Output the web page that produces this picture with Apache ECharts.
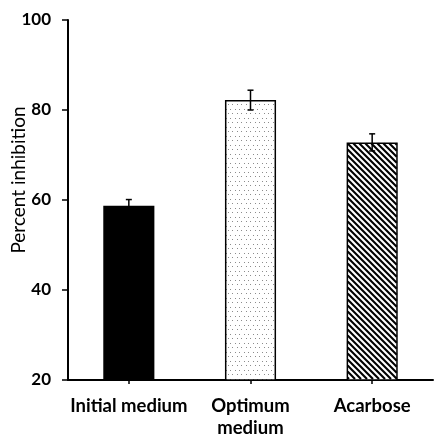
<!DOCTYPE html>
<html>
<head>
<meta charset="utf-8">
<script src="https://cdn.jsdelivr.net/npm/echarts@6/dist/echarts.min.js"></script>
<style>
html,body{margin:0;padding:0;background:#fff;}
#chart{width:435px;height:435px;}
</style>
</head>
<body>
<div id="chart"></div>
<script>
const categories = ['Initial medium', 'Optimum\nmedium', 'Acarbose'];
const values = [58.7, 82.2, 72.8];
const errors = [1.4, 2.2, 1.9];
const yTicks = [20, 40, 60, 80, 100];

const BAR_FRAC = 0.42;

function dotPattern() {
  const c = document.createElement('canvas');
  c.width = 9; c.height = 9;
  const g = c.getContext('2d');
  g.fillStyle = '#fff'; g.fillRect(0, 0, 9, 9);
  g.fillStyle = '#8c8c8c';
  g.fillRect(1, 1, 1, 1);
  g.fillRect(5, 1, 1, 1);
  g.fillRect(3, 5, 1, 1);
  g.fillRect(7, 5, 1, 1);
  return c;
}

const fills = [
  '#000',
  { image: dotPattern(), repeat: 'repeat' },
  '#fff'
];

const chart = echarts.init(document.getElementById('chart'), null, { renderer: 'canvas' });
const font = 'Lato, "Open Sans", sans-serif';
chart.setOption({
  animation: false,
  backgroundColor: '#fff',
  grid: { left: 68, right: 2, top: 20, bottom: 55, containLabel: false, outerBoundsMode: 'none' },
  graphic: [{
    type: 'text', x: 19, y: 180, rotation: Math.PI / 2,
    style: { text: 'Percent inhibition', font: '19px ' + font, fill: '#000', textAlign: 'center', textVerticalAlign: 'middle' }
  }],
  xAxis: {
    type: 'category', data: categories,
    axisLine: { lineStyle: { color: '#000', width: 2 } },
    axisTick: { show: true, alignWithLabel: true, length: 4, lineStyle: { color: '#000', width: 1.5 } },
    axisLabel: { color: '#000', fontFamily: font, fontWeight: 'bold', fontSize: 18.5, lineHeight: 22, margin: 15, interval: 0 }
  },
  yAxis: {
    type: 'value', min: yTicks[0], max: yTicks[yTicks.length - 1], interval: 20,
    splitLine: { show: false },
    axisLine: { show: true, lineStyle: { color: '#000', width: 2 } },
    axisTick: { show: true, length: 6, lineStyle: { color: '#000', width: 1.5 } },
    axisLabel: { color: '#000', fontFamily: font, fontWeight: 'bold', fontSize: 17, margin: 17 }
  },
  series: [
    {
      type: 'bar', barWidth: (BAR_FRAC * 100) + '%', z: 2,
      data: values.map((v, i) => ({ value: v, itemStyle: { color: fills[i], borderColor: '#000', borderWidth: 1.5 } }))
    },
    {
      // diagonal hatch inside the Acarbose bar
      type: 'custom', z: 3,
      data: [[2, values[2]]],
      renderItem: function (params, api) {
        const i = api.value(0), v = api.value(1);
        const top = api.coord([i, v]);
        const base = api.coord([i, yTicks[0]]);
        const w = api.size([1, 0])[0] * BAR_FRAC;
        const inset = 1;
        const x0 = top[0] - w / 2 + inset, x1 = top[0] + w / 2 - inset;
        const y0 = top[1] + inset, y1 = base[1] - inset;
        const step = 6;
        const children = [];
        const cStart = Math.floor((x0 - y1) / step) * step - step;
        for (let c = cStart; c <= x1 - y0 + step; c += step) {
          // line: x - y = c  ->  y = x - c
          const sx = Math.max(x0, y0 + c), ex = Math.min(x1, y1 + c);
          if (ex > sx) {
            children.push({ type: 'line', shape: { x1: sx, y1: sx - c, x2: ex, y2: ex - c },
              style: { stroke: '#000', lineWidth: 2.1 } });
          }
        }
        return { type: 'group', children: children };
      }
    },
    {
      type: 'custom', z: 10,
      data: values.map((v, i) => [i, v, errors[i]]),
      renderItem: function (params, api) {
        const x = api.value(0), v = api.value(1), e = api.value(2);
        const hi = api.coord([x, v + e]);
        const lo = api.coord([x, v - e]);
        const hw = 3;
        const st = { stroke: '#000', lineWidth: 1.5 };
        return {
          type: 'group', children: [
            { type: 'line', shape: { x1: hi[0], y1: hi[1], x2: lo[0], y2: lo[1] }, style: st },
            { type: 'line', shape: { x1: hi[0] - hw, y1: hi[1], x2: hi[0] + hw, y2: hi[1] }, style: st },
            { type: 'line', shape: { x1: lo[0] - hw, y1: lo[1], x2: lo[0] + hw, y2: lo[1] }, style: st }
          ]
        };
      }
    }
  ]
});
</script>
</body>
</html>
